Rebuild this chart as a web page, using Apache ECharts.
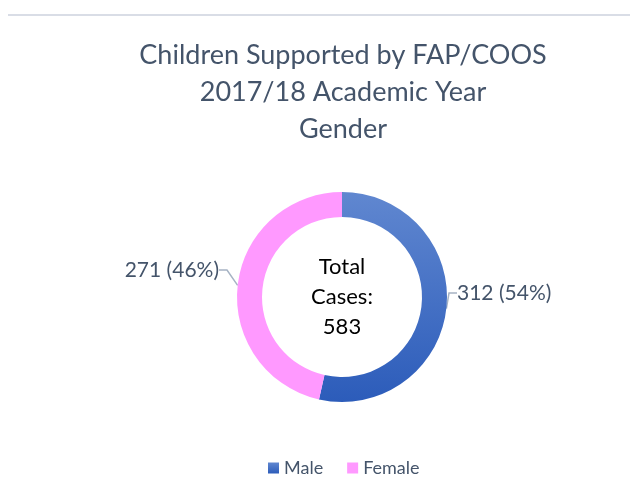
<!DOCTYPE html>
<html><head><meta charset="utf-8">
<script src="https://cdn.jsdelivr.net/npm/echarts@6/dist/echarts.min.js"></script>
<style>html,body{margin:0;padding:0;background:#fff}#c{width:630px;height:490px}</style>
</head><body><div id="c"></div>
<script>
const titleLines = ['Children Supported by FAP/COOS', '2017/18 Academic Year', 'Gender'];
const categories = ['Male', 'Female'];
const values = [312, 271];
const colors = ['#3a68c4', '#ff99ff'];
const centerText = ['Total', 'Cases:', '583'];

const total = values.reduce((a, b) => a + b, 0);
const chart = echarts.init(document.getElementById('c'));
const font = 'Lato, "Noto Sans", sans-serif';
const labelPos = [{x: 457, y: 293, align: 'left'}, {x: 219, y: 270, align: 'right'}];

chart.setOption({
  animation: false,
  graphic: [{type: 'line', shape: {x1: 8, y1: 15, x2: 630, y2: 15}, style: {stroke: '#d9dde6', lineWidth: 2}}],
  title: {
    text: titleLines.join('\n'), left: 338, textAlign: 'center', top: 32,
    textStyle: {fontFamily: font, fontSize: 27, fontWeight: 'normal', color: '#44546a', lineHeight: 37}
  },
  legend: {
    data: categories, top: 454, left: 263, icon: 'rect', itemWidth: 11, itemHeight: 11, itemGap: 24,
    textStyle: {fontFamily: font, fontSize: 18, color: '#44546a'}
  },
  series: [{
    type: 'pie', center: [342, 297], radius: [80, 105], startAngle: 90, clockwise: true,
    data: categories.map((n, i) => ({
      name: n, value: values[i],
      itemStyle: {color: i === 0 ? new echarts.graphic.LinearGradient(0, 0, 0, 1, [{offset: 0, color: '#6087d0'}, {offset: 1, color: '#2c5cba'}]) : colors[i]}
    })),
    label: {
      show: true, fontFamily: font, fontSize: 21, color: '#44546a',
      formatter: p => p.value + ' (' + Math.round(p.value / total * 100) + '%)'
    },
    labelLine: {show: true, length: 8, length2: 8, lineStyle: {color: '#a6b3c4', width: 1.5}},
    labelLayout: p => ({x: labelPos[p.dataIndex].x, y: labelPos[p.dataIndex].y, align: labelPos[p.dataIndex].align, verticalAlign: 'middle'}),
    emphasis: {disabled: true}
  }, {
    type: 'pie', center: [342, 297], radius: [0, 1], silent: true,
    data: [{value: 1, itemStyle: {color: 'transparent'}}],
    label: {show: true, position: 'center', formatter: centerText.join('\n'), fontFamily: font, fontSize: 22, color: '#000', lineHeight: 30},
    labelLine: {show: false}
  }]
});
</script></body></html>
